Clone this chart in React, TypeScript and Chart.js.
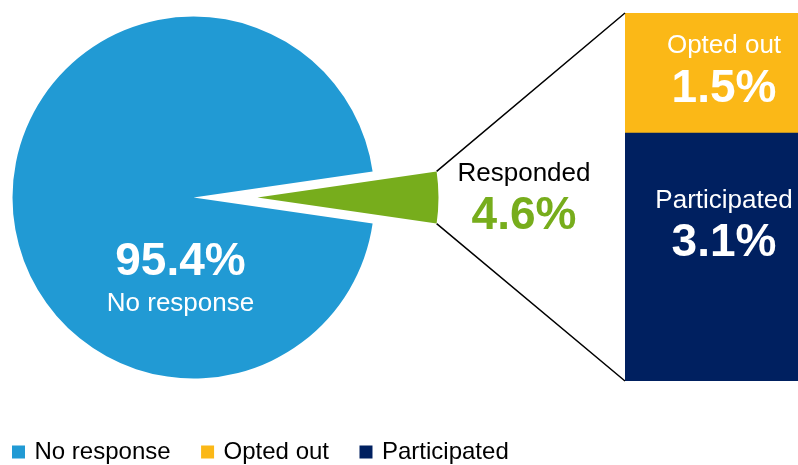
import React, { useEffect, useRef } from 'react';
import { Chart, registerables } from 'chart.js';

Chart.register(...registerables);

// ---- data ----
const pieLabels = ['No response', 'Responded'];
const pieValues = [95.4, 4.6];
const breakdownCategories = ['Responded'];
const participatedValues = [3.1];
const optedOutValues = [1.5];
const legendLabels = ['No response', 'Opted out', 'Participated'];

// ---- styles ----
const BLUE = '#219AD4';
const GREEN = '#77AD1C';
const YELLOW = '#FBB817';
const NAVY = '#002060';
const legendColors = [BLUE, YELLOW, NAVY];
const FONT = "'Liberation Sans', Arial, Helvetica, sans-serif";
const W = 798;
const H = 465;
const PIE_RADIUS = 181;
const SLICE_SHIFT = 64;
const BAR_LEFT = 625;
const PAD_LEFT = -18.5;

const fmt = (v: number) => `${v.toFixed(1)}%`;

export default function App() {
  const barRef = useRef<HTMLCanvasElement>(null);
  const pieRef = useRef<HTMLCanvasElement>(null);
  const sliceRef = useRef<HTMLCanvasElement>(null);

  useEffect(() => {
    document.body.style.margin = '0';
    Chart.defaults.font.family = FONT;

    const total = pieValues.reduce((a, b) => a + b, 0);
    const rIdx = 1;
    const before = pieValues.slice(0, rIdx).reduce((a, b) => a + b, 0);
    const mid = (360 * (before + pieValues[rIdx] / 2)) / total;
    const rotation = 90 - mid;

    const pieOptions: any = {
      responsive: false,
      animation: false,
      events: [],
      rotation,
      radius: PIE_RADIUS,
      layout: { padding: { left: 0, top: 0, right: 411, bottom: 70 } },
      plugins: { legend: { display: false }, tooltip: { enabled: false } },
    };

    const pieLabelPlugin = {
      id: 'pieLabels',
      afterDatasetsDraw(chart: any) {
        const arc = chart.getDatasetMeta(0).data[0];
        const { ctx } = chart;
        ctx.save();
        ctx.fillStyle = '#ffffff';
        ctx.textAlign = 'center';
        ctx.textBaseline = 'middle';
        ctx.font = `bold 46px ${FONT}`;
        ctx.fillText(fmt(pieValues[0]), arc.x - 13, arc.y + 65);
        ctx.font = `26px ${FONT}`;
        ctx.fillText(pieLabels[0], arc.x - 13, arc.y + 106.5);
        ctx.restore();
      },
    };

    const pieChart = new Chart(pieRef.current!, {
      type: 'pie',
      data: {
        labels: pieLabels,
        datasets: [
          {
            data: pieValues,
            backgroundColor: [BLUE, 'rgba(0,0,0,0)'],
            borderWidth: 0,
          },
        ],
      },
      options: pieOptions,
      plugins: [pieLabelPlugin],
    });

    const sliceChart = new Chart(sliceRef.current!, {
      type: 'pie',
      data: {
        labels: pieLabels,
        datasets: [
          {
            data: pieValues,
            backgroundColor: ['rgba(0,0,0,0)', GREEN],
            borderWidth: 0,
          },
        ],
      },
      options: pieOptions,
    });

    const drillPlugin = {
      id: 'drill',
      afterDatasetsDraw(chart: any) {
        const { ctx } = chart;
        const arc: any = sliceChart.getDatasetMeta(0).data[rIdx];
        const { x, y, startAngle, endAngle, outerRadius } = arc;
        const cx = x + SLICE_SHIFT;
        const p1 = { x: cx + outerRadius * Math.cos(startAngle), y: y + outerRadius * Math.sin(startAngle) };
        const p2 = { x: cx + outerRadius * Math.cos(endAngle), y: y + outerRadius * Math.sin(endAngle) };
        let top = Infinity;
        let bottom = -Infinity;
        let left = Infinity;
        chart.data.datasets.forEach((_: any, di: number) => {
          const el: any = chart.getDatasetMeta(di).data[0];
          top = Math.min(top, el.y, el.base);
          bottom = Math.max(bottom, el.y, el.base);
          left = Math.min(left, el.x - el.width / 2);
        });
        ctx.save();
        ctx.strokeStyle = '#000000';
        ctx.lineWidth = 1.5;
        ctx.beginPath();
        ctx.moveTo(p1.x, p1.y);
        ctx.lineTo(left, top);
        ctx.moveTo(p2.x, p2.y);
        ctx.lineTo(left, bottom);
        ctx.stroke();

        // responded label
        const midA = (startAngle + endAngle) / 2;
        const ox = cx + outerRadius * Math.cos(midA);
        const oy = y + outerRadius * Math.sin(midA);
        ctx.textAlign = 'center';
        ctx.textBaseline = 'middle';
        ctx.fillStyle = '#000000';
        ctx.font = `26px ${FONT}`;
        ctx.fillText(pieLabels[rIdx], ox + 85.5, oy - 23.5);
        ctx.fillStyle = GREEN;
        ctx.font = `bold 46px ${FONT}`;
        ctx.fillText(fmt(pieValues[rIdx]), ox + 85.5, oy + 18.5);

        // segment labels
        const offsets: Record<string, [number, number]> = {
          'Opted out': [-27.5, 16],
          Participated: [-56, -13.5],
        };
        ctx.fillStyle = '#ffffff';
        chart.data.datasets.forEach((ds: any, di: number) => {
          const el: any = chart.getDatasetMeta(di).data[0];
          const t = Math.min(el.y, el.base);
          const b = Math.max(el.y, el.base);
          const c = (t + b) / 2;
          const tx = el.x + 12.5;
          const [d1, d2] = offsets[ds.label] || [-20, 20];
          ctx.font = `26px ${FONT}`;
          ctx.fillText(ds.label, tx, c + d1);
          ctx.font = `bold 46px ${FONT}`;
          ctx.fillText(fmt(ds.data[0]), tx, c + d2);
        });
        ctx.restore();
      },
    };

    const barChart = new Chart(barRef.current!, {
      type: 'bar',
      data: {
        labels: breakdownCategories,
        datasets: [
          { label: 'Participated', data: participatedValues, backgroundColor: NAVY, borderWidth: 0, barPercentage: 1, categoryPercentage: 1 },
          { label: 'Opted out', data: optedOutValues, backgroundColor: YELLOW, borderWidth: 0, barPercentage: 1, categoryPercentage: 1 },
        ],
      },
      options: {
        responsive: false,
        animation: false,
        events: [],
        layout: { padding: { left: PAD_LEFT, top: 13, right: 0, bottom: -9 } },
        scales: {
          x: {
            stacked: true,
            position: 'bottom',
            grid: { display: false },
            ticks: { display: false },
            border: { display: false },
            afterFit: (s: any) => {
              s.height = 26;
            },
          },
          y: {
            stacked: true,
            position: 'left',
            min: 0,
            max: pieValues[rIdx],
            grid: { display: false },
            ticks: { display: false },
            border: { display: false },
            afterFit: (s: any) => {
              s.width = BAR_LEFT - PAD_LEFT;
            },
          },
        },
        plugins: {
          tooltip: { enabled: false },
          legend: {
            position: 'bottom',
            align: 'start',
            labels: {
              color: '#000000',
              font: { size: 24, family: FONT },
              usePointStyle: true,
              pointStyle: 'rect',
              boxWidth: 8,
              boxHeight: 13,
              padding: 33,
              generateLabels: () =>
                legendLabels.map((text, i) => ({
                  text,
                  fillStyle: legendColors[i],
                  strokeStyle: legendColors[i],
                  lineWidth: 0,
                  hidden: false,
                  pointStyle: 'rect',
                  fontColor: '#000000',
                  index: i,
                })),
            },
          },
        },
      } as any,
      plugins: [drillPlugin],
    });

    return () => {
      barChart.destroy();
      sliceChart.destroy();
      pieChart.destroy();
    };
  }, []);

  const abs: React.CSSProperties = { position: 'absolute', top: 0, left: 0 };
  return (
    <div style={{ position: 'relative', width: W, height: H, overflow: 'hidden', background: '#fff' }}>
      <canvas ref={barRef} width={W} height={H} style={abs} />
      <canvas ref={pieRef} width={W} height={H} style={abs} />
      <canvas ref={sliceRef} width={W} height={H} style={{ ...abs, left: SLICE_SHIFT }} />
    </div>
  );
}
